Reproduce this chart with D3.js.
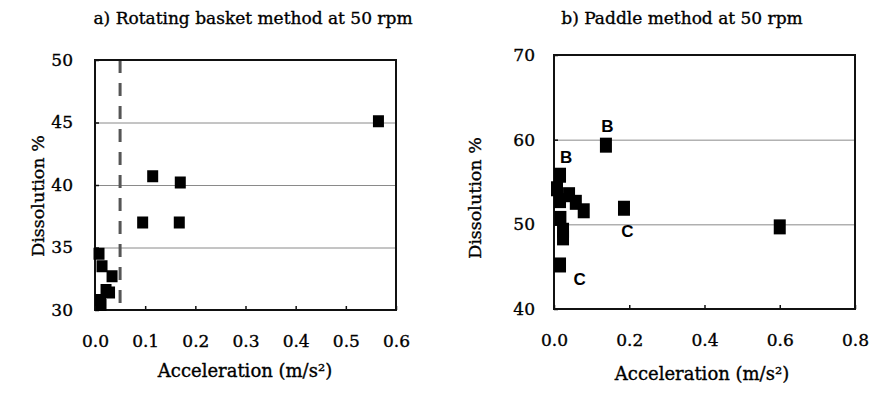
<!DOCTYPE html>
<html>
<head>
<meta charset="utf-8">
<script src="https://cdn.jsdelivr.net/npm/d3@7"></script>
<style>
    body { margin: 0; background: #fff; }
    svg { display: block; }
    text { font-family: "DejaVu Serif", serif; fill: #000; stroke: #000; stroke-width: 0.35px; }
</style>
</head>
<body>
<div id="chart"></div>
<script>
// a) rotating basket
const basketAccel = [0.008, 0.014, 0.034, 0.022, 0.029, 0.011, 0.012, 0.095, 0.115, 0.168, 0.170, 0.565];
const basketDissolution = [34.5, 33.5, 32.7, 31.6, 31.4, 30.8, 30.4, 37.0, 40.7, 37.0, 40.2, 45.1];
const basketXTicks = [0, 0.1, 0.2, 0.3, 0.4, 0.5, 0.6];
const basketYTicks = [30, 35, 40, 45, 50];
const basketLimit = 0.05;

// b) paddle
const paddleAccel = [0.016, 0.008, 0.040, 0.016, 0.058, 0.079, 0.138, 0.186, 0.017, 0.024, 0.024, 0.016, 0.600];
const paddleDissolution = [55.8, 54.2, 53.5, 52.8, 52.6, 51.6, 59.35, 51.9, 50.7, 49.3, 48.4, 45.2, 49.7];
const paddleXTicks = [0, 0.2, 0.4, 0.6, 0.8];
const paddleYTicks = [40, 50, 60, 70];
const paddleLabels = ["B", "B", "C", "C"];
const paddleLabelX = [0.032, 0.142, 0.195, 0.068];
const paddleLabelY = [57.3, 60.95, 48.45, 42.8];

const width = 871, height = 395;

let svg = d3.select("#chart").append("svg")
    .attr("width", width)
    .attr("height", height);

function drawPanel(p) {
    let x = d3.scaleLinear().domain(p.xDomain).range([p.left, p.right]);
    let y = d3.scaleLinear().domain(p.yDomain).range([p.bottom, p.top]);
    let g = svg.append("g");

    // grid lines (inner ticks only)
    g.append("g")
        .attr("transform", "translate(" + p.left + ",0)")
        .call(d3.axisLeft(y).tickValues(p.yTicks.slice(1, -1)).tickSize(-(p.right - p.left)).tickFormat(""))
        .call(a => a.select(".domain").remove())
        .selectAll("line").attr("stroke", "#8a8a8a").attr("stroke-width", 1);

    // dashed limit line
    if (p.limit !== undefined) {
        g.append("line")
            .attr("x1", x(p.limit)).attr("x2", x(p.limit))
            .attr("y1", p.top).attr("y2", p.bottom)
            .attr("stroke", "#555")
            .attr("stroke-width", 3)
            .attr("stroke-dasharray", "13,10");
    }

    // axes with inward ticks
    let xAxis = g.append("g")
        .attr("transform", "translate(0," + p.bottom + ")")
        .call(d3.axisBottom(x).tickValues(p.xTicks).tickFormat(d3.format(".1f"))
            .tickSizeInner(-4).tickSizeOuter(0).tickPadding(25));
    let yAxis = g.append("g")
        .attr("transform", "translate(" + p.left + ",0)")
        .call(d3.axisLeft(y).tickValues(p.yTicks).tickFormat(d3.format("d"))
            .tickSizeInner(-4).tickSizeOuter(0).tickPadding(p.yPad));
    [xAxis, yAxis].forEach(a => {
        a.select(".domain").remove();
        a.selectAll("line").attr("stroke", "#111").attr("stroke-width", 1.5);
        a.selectAll("text").style("font-size", "17px").style("font-family", "DejaVu Serif, serif")
            .attr("fill", "#000");
    });

    // frame
    g.append("rect")
        .attr("x", p.left).attr("y", p.top)
        .attr("width", p.right - p.left).attr("height", p.bottom - p.top)
        .attr("fill", "none").attr("stroke", "#111").attr("stroke-width", 2);

    // markers
    g.selectAll(".dot")
        .data(p.xs.map((v, i) => ({x: v, y: p.ys[i]})))
        .enter().append("rect")
        .attr("class", "dot")
        .attr("x", d => x(d.x) - p.mw / 2)
        .attr("y", d => y(d.y) - p.mh / 2)
        .attr("width", p.mw)
        .attr("height", p.mh)
        .attr("fill", "#000");

    // letter labels
    if (p.labels) {
        g.selectAll(".lab")
            .data(p.labels)
            .enter().append("text")
            .attr("x", (d, i) => x(p.labelX[i]))
            .attr("y", (d, i) => y(p.labelY[i]))
            .attr("text-anchor", "middle")
            .style("font-family", "Liberation Sans, Arial, sans-serif")
            .style("font-weight", "bold")
            .style("font-size", "17px")
            .style("stroke-width", "0")
            .text(d => d);
    }

    // titles
    g.append("text")
        .attr("x", p.titleX).attr("y", 24)
        .attr("text-anchor", "middle")
        .style("font-size", "17px")
        .text(p.title);
    g.append("text")
        .attr("x", p.xLabelX).attr("y", p.xLabelY)
        .attr("text-anchor", "middle")
        .style("font-size", "18px")
        .text("Acceleration (m/s²)");
    g.append("text")
        .attr("transform", "translate(" + p.yLabelX + "," + p.yLabelY + ") rotate(-90)")
        .attr("text-anchor", "middle")
        .style("font-size", "17.5px")
        .text("Dissolution %");
}

drawPanel({
    title: "a) Rotating basket method at 50 rpm", titleX: 253,
    left: 95, right: 396, top: 60, bottom: 310,
    xDomain: [0, 0.6], yDomain: [30, 50],
    xTicks: basketXTicks, yTicks: basketYTicks,
    xs: basketAccel, ys: basketDissolution,
    limit: basketLimit, yPad: 22, mw: 11, mh: 12,
    xLabelX: 245, xLabelY: 377, yLabelX: 44, yLabelY: 196
});

drawPanel({
    title: "b) Paddle method at 50 rpm", titleX: 682,
    left: 554, right: 855, top: 55, bottom: 309,
    xDomain: [0, 0.8], yDomain: [40, 70],
    xTicks: paddleXTicks, yTicks: paddleYTicks,
    xs: paddleAccel, ys: paddleDissolution,
    yPad: 19, mw: 12, mh: 15,
    labels: paddleLabels, labelX: paddleLabelX, labelY: paddleLabelY,
    xLabelX: 702, xLabelY: 380, yLabelX: 481, yLabelY: 198
});
</script>
</body>
</html>
